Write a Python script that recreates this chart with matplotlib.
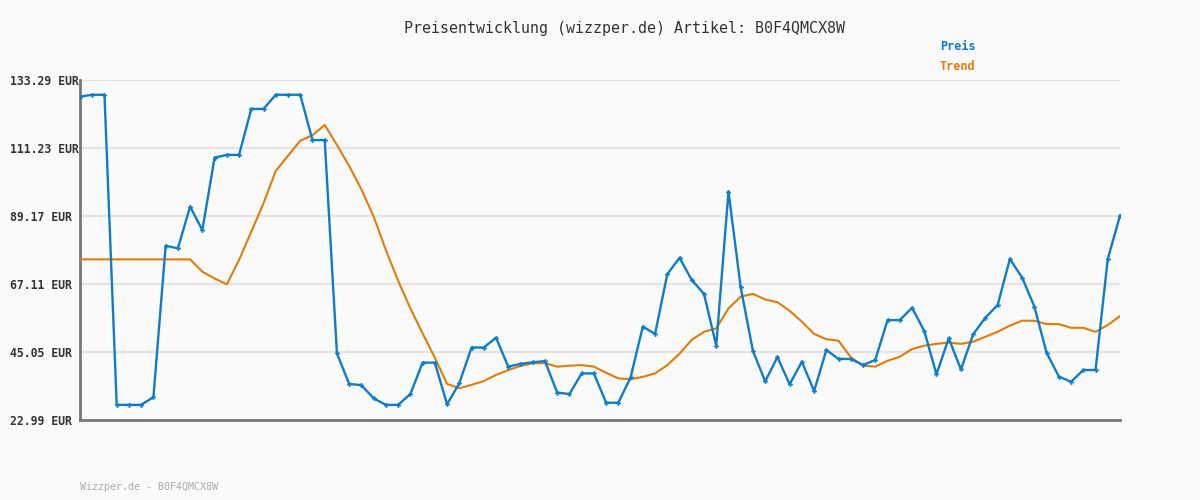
import matplotlib.pyplot as plt

# ---------------------------------------------------
# Data
# ---------------------------------------------------

preis = [
    127.9, 128.5, 128.5, 27.9, 27.9, 27.9, 30.4, 79.5, 78.7, 92.2,
    84.6, 108.1, 109.0, 109.0, 123.9, 123.9, 128.5, 128.5, 128.5, 113.8,
    113.8, 44.6, 34.7, 34.3, 30.0, 27.9, 27.9, 31.4, 41.6, 41.6,
    28.1, 34.9, 46.5, 46.5, 49.7, 40.3, 41.2, 41.7, 42.1, 31.9,
    31.4, 38.1, 38.1, 28.6, 28.6, 36.8, 53.3, 50.9, 70.3, 75.6,
    68.4, 63.9, 47.1, 97.1, 66.0, 45.4, 35.5, 43.4, 34.6, 41.9,
    32.4, 45.7, 42.8, 42.8, 40.8, 42.5, 55.4, 55.4, 59.4, 51.9,
    37.8, 49.5, 39.4, 50.8, 56.2, 60.3, 75.2, 69.2, 59.8, 44.8,
    37.1, 35.4, 39.2, 39.2, 75.2, 89.3,
]

trend = [
    75.1, 75.1, 75.1, 75.1, 75.1, 75.1, 75.1, 75.1, 75.1, 75.1,
    71.1, 68.9, 67.0, 74.9, 84.1, 93.3, 103.8, 108.7, 113.6, 115.4,
    118.7, 112.2, 105.4, 97.8, 89.0, 78.1, 68.2, 59.2, 51.1, 43.2,
    34.7, 33.3, 34.4, 35.6, 37.6, 39.2, 40.5, 41.4, 41.4, 40.3,
    40.6, 40.8, 40.3, 38.3, 36.5, 36.2, 37.0, 38.1, 40.8, 44.5,
    49.0, 51.6, 52.7, 59.2, 63.0, 63.9, 62.1, 61.2, 58.4, 54.9,
    50.9, 49.2, 48.7, 43.3, 40.6, 40.3, 42.2, 43.5, 46.0, 47.1,
    47.7, 48.1, 47.7, 48.4, 50.0, 51.6, 53.6, 55.2, 55.2, 54.1,
    54.1, 52.9, 52.9, 51.6, 53.8, 56.7,
]

y_ticks = [22.99, 45.05, 67.11, 89.17, 111.23, 133.29]
y_labels = [f"{v:.2f} EUR" for v in y_ticks]

title = "Preisentwicklung (wizzper.de) Artikel: B0F4QMCX8W"
footer = "Wizzper.de - B0F4QMCX8W"

blue = "#0f7cca"
orange = "#e07c0a"
bg = "#fafafa"
mono = ["DejaVu Sans Mono"]

# ---------------------------------------------------
# Plot
# ---------------------------------------------------

fig = plt.figure(figsize=(12, 5), dpi=100, facecolor=bg)
ax = fig.add_axes([80 / 1200, 80 / 500, 1040 / 1200, 340 / 500])
ax.set_facecolor(bg)

x = list(range(len(preis)))

ax.plot(x, trend, color=orange, linewidth=1.5, zorder=3)
ax.plot(
    x, preis,
    color=blue,
    linewidth=1.7,
    marker="P",
    markersize=3.5,
    markeredgewidth=0,
    zorder=4
)

ax.set_xlim(0, len(preis) - 1)
ax.set_ylim(y_ticks[0], y_ticks[-1])

for v in y_ticks[1:]:
    ax.axhline(v, color="#e4e4e4", linewidth=1.6, zorder=1)

ax.set_yticks(y_ticks)
ax.set_yticklabels(y_labels, family=mono, fontsize=8.3,
                   fontweight="bold", color="#333333", ha="left")
ax.tick_params(axis="y", length=0, pad=50.4)
ax.set_xticks([])

for side in ["top", "right"]:
    ax.spines[side].set_visible(False)
for side in ["left", "bottom"]:
    ax.spines[side].set_color("#777777")
    ax.spines[side].set_linewidth(2)

fig.text(624 / 1200, 1 - 28 / 500, title, family=mono, fontsize=10.8,
         color="#333333", ha="center", va="center")

fig.text(940 / 1200, 1 - 47 / 500, "Preis", family=mono, fontsize=8.5,
         fontweight="bold", color=blue, ha="left", va="center")
fig.text(940 / 1200, 1 - 67 / 500, "Trend", family=mono, fontsize=8.5,
         fontweight="bold", color=orange, ha="left", va="center")

fig.text(80 / 1200, 1 - 487 / 500, footer, family=mono, fontsize=7.2,
         color="#aaaaaa", ha="left", va="center")

fig.savefig("out.png", dpi=100, facecolor=bg)
